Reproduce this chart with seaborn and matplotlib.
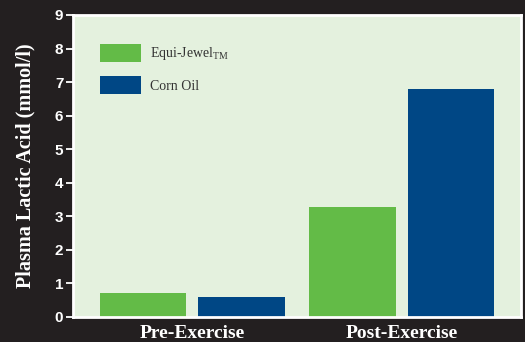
import matplotlib
matplotlib.use("Agg")
import matplotlib.pyplot as plt
import seaborn as sns
import pandas as pd

phases = ["Pre-Exercise", "Post-Exercise"]
equi_jewel = [0.72, 3.28]
corn_oil = [0.60, 6.78]
series_names = ["Equi-Jewel$_{\\mathregular{TM}}$", "Corn Oil"]
yticks = [0, 1, 2, 3, 4, 5, 6, 7, 8, 9]

df = pd.DataFrame({
    "phase": phases * 2,
    "value": equi_jewel + corn_oil,
    "series": [series_names[0]] * 2 + [series_names[1]] * 2,
})

sns.set_theme(style="white")
plt.rcParams["mathtext.fontset"] = "custom"
plt.rcParams["mathtext.rm"] = "Liberation Serif"
bg = "#231f20"
fig = plt.figure(figsize=(5.25, 3.42), dpi=100, facecolor=bg)
ax = fig.add_axes([73 / 525, 1 - 317 / 342, 448 / 525, 302 / 342])
ax.set_facecolor("#e4f1de")

sns.barplot(data=df, x="phase", y="value", hue="series", order=phases,
            hue_order=series_names, palette=["#63bb47", "#004785"],
            width=0.94, gap=0.125, saturation=1, ax=ax, errorbar=None,
            linewidth=0)

ax.set_xlim(-0.567, 1.567)
ax.set_ylim(0, 9)
ax.set_yticks(yticks)
ax.set_yticklabels([str(t) for t in yticks], family="Liberation Sans",
                   fontweight="bold", color="white", fontsize=11)
ax.set_xticks([0, 1])
ax.set_xticklabels(phases, family="Liberation Serif", fontweight="bold",
                   color="white", fontsize=14)
ax.tick_params(axis="y", left=True, length=5, width=1.3, color="white", pad=2)
ax.tick_params(axis="x", bottom=False, pad=0)
ax.set_xlabel("")
ax.set_ylabel("Plasma Lactic Acid (mmol/l)", family="Liberation Serif",
              fontweight="bold", color="white", fontsize=14.5, labelpad=14)
for s in ax.spines.values():
    s.set_visible(True)
    s.set_color("white")
    s.set_linewidth(2)

leg = ax.legend(loc="upper left", bbox_to_anchor=(0.06, 0.904), frameon=False,
                borderaxespad=0, borderpad=0, handlelength=2.95, handleheight=1.6,
                handletextpad=0.65, labelspacing=1.0,
                prop={"family": "Liberation Serif", "size": 10})
for t in leg.get_texts():
    t.set_color("#333333")

fig.savefig("out.png", dpi=100, facecolor=bg)
